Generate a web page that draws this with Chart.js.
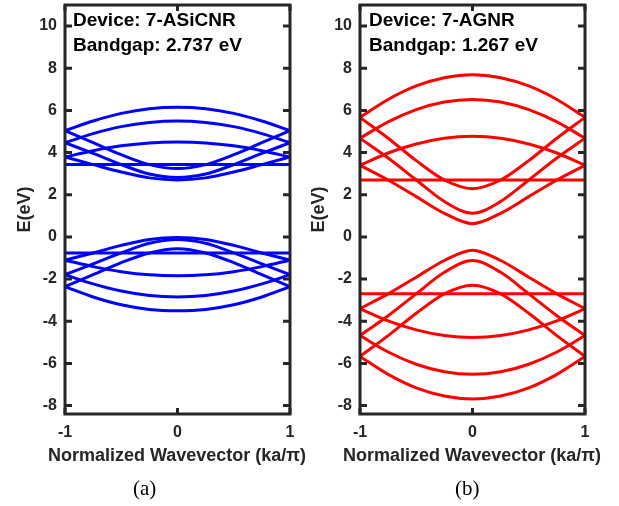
<!DOCTYPE html>
<html>
<head>
<meta charset="utf-8">
<script src="https://cdn.jsdelivr.net/npm/chart.js@4.4.0/dist/chart.umd.min.js"></script>
<style>
  body { margin: 0; background: #fff; }
  #wrap { position: relative; width: 619px; height: 506px; overflow: hidden; }
  canvas { position: absolute; top: 0; }
  .note { position: absolute; top: 7px; font: bold 19px "Liberation Sans", Arial, sans-serif; line-height: 25px; color: #000; white-space: nowrap; }
  .xt { position: absolute; top: 444px; width: 300px; text-align: center; font: bold 18px "Liberation Sans", Arial, sans-serif; line-height: 22px; color: #262626; white-space: nowrap; }
  .cap { position: absolute; top: 476px; font: 21px "Liberation Serif", "Times New Roman", serif; color: #000; }
</style>
</head>
<body>
<div id="wrap">
  <canvas id="left" width="310" height="506" style="left:0"></canvas>
  <canvas id="right" width="311" height="506" style="left:308px"></canvas>
  <div class="note" style="left:73px">Device: 7-ASiCNR<br>Bandgap: 2.737 eV</div>
  <div class="note" style="left:369px">Device: 7-AGNR<br>Bandgap: 1.267 eV</div>
  <div class="xt" style="left:27px">Normalized Wavevector (ka/&pi;)</div>
  <div class="xt" style="left:322px">Normalized Wavevector (ka/&pi;)</div>
  <div class="cap" style="left:133px">(a)</div>
  <div class="cap" style="left:455px">(b)</div>
</div>
<script>
// wavevector samples, ka/pi
const kPoints = [-1, -0.75, -0.5, -0.25, 0, 0.25, 0.5, 0.75, 1];
const xTicks = [-1, 0, 1];
const yTicks = [-8, -6, -4, -2, 0, 2, 4, 6, 8, 10];

// 7-ASiCNR bands (eV)
const asicnrConduction = [
  [5.04, 5.50, 5.86, 6.08, 6.15, 6.08, 5.86, 5.50, 5.04],
  [4.47, 4.90, 5.23, 5.43, 5.50, 5.43, 5.23, 4.90, 4.47],
  [3.79, 4.09, 4.32, 4.46, 4.50, 4.46, 4.32, 4.09, 3.79],
  [3.43, 3.43, 3.43, 3.43, 3.43, 3.43, 3.43, 3.43, 3.43],
  [3.79, 3.43, 3.08, 2.80, 2.70, 2.80, 3.08, 3.43, 3.79],
  [4.47, 3.96, 3.43, 2.98, 2.82, 2.98, 3.43, 3.96, 4.47],
  [5.04, 4.47, 3.90, 3.43, 3.24, 3.43, 3.90, 4.47, 5.04]
];
const asicnrValence = [
  [-2.36, -2.85, -3.22, -3.44, -3.50, -3.44, -3.22, -2.85, -2.36],
  [-1.79, -2.23, -2.57, -2.78, -2.85, -2.78, -2.57, -2.23, -1.79],
  [-1.10, -1.41, -1.65, -1.80, -1.84, -1.80, -1.65, -1.41, -1.10],
  [-0.76, -0.76, -0.76, -0.76, -0.76, -0.76, -0.76, -0.76, -0.76],
  [-1.10, -0.76, -0.40, -0.12, -0.03, -0.12, -0.40, -0.76, -1.10],
  [-1.79, -1.28, -0.76, -0.30, -0.12, -0.30, -0.76, -1.28, -1.79],
  [-2.36, -1.79, -1.22, -0.76, -0.56, -0.76, -1.22, -1.79, -2.36]
];

// 7-AGNR bands (eV)
const agnrConduction = [
  [5.67, 6.52, 7.16, 7.55, 7.69, 7.55, 7.16, 6.52, 5.67],
  [4.68, 5.46, 6.04, 6.40, 6.52, 6.40, 6.04, 5.46, 4.68],
  [3.40, 3.98, 4.41, 4.68, 4.77, 4.68, 4.41, 3.98, 3.40],
  [2.70, 2.70, 2.70, 2.70, 2.70, 2.70, 2.70, 2.70, 2.70],
  [3.40, 2.70, 1.91, 1.12, 0.63, 1.12, 1.91, 2.70, 3.40],
  [4.68, 3.74, 2.70, 1.68, 1.12, 1.68, 2.70, 3.74, 4.68],
  [5.67, 4.68, 3.62, 2.70, 2.29, 2.70, 3.62, 4.68, 5.67]
];
const agnrValence = [
  [-5.67, -6.52, -7.16, -7.55, -7.69, -7.55, -7.16, -6.52, -5.67],
  [-4.68, -5.46, -6.04, -6.40, -6.52, -6.40, -6.04, -5.46, -4.68],
  [-3.40, -3.98, -4.41, -4.68, -4.77, -4.68, -4.41, -3.98, -3.40],
  [-2.70, -2.70, -2.70, -2.70, -2.70, -2.70, -2.70, -2.70, -2.70],
  [-3.40, -2.70, -1.91, -1.12, -0.63, -1.12, -1.91, -2.70, -3.40],
  [-4.68, -3.74, -2.70, -1.68, -1.12, -1.68, -2.70, -3.74, -4.68],
  [-5.67, -4.68, -3.62, -2.70, -2.29, -2.70, -3.62, -4.68, -5.67]
];

const axisColor = '#262626';
const sansFont = '"Liberation Sans", Arial, sans-serif';

// MATLAB style box with inward ticks on all four sides
const boxPlugin = {
  id: 'box',
  afterDatasetsDraw(chart) {
    const { ctx, chartArea: a, scales: { x, y } } = chart;
    ctx.save();
    ctx.strokeStyle = axisColor;
    ctx.lineWidth = 3;
    ctx.strokeRect(a.left, a.top, a.right - a.left, a.bottom - a.top);
    ctx.beginPath();
    y.ticks.forEach(t => {
      const py = y.getPixelForValue(t.value);
      ctx.moveTo(a.left, py); ctx.lineTo(a.left + 7, py);
      ctx.moveTo(a.right, py); ctx.lineTo(a.right - 7, py);
    });
    x.ticks.forEach(t => {
      const px = x.getPixelForValue(t.value);
      ctx.moveTo(px, a.bottom); ctx.lineTo(px, a.bottom - 6);
      ctx.moveTo(px, a.top); ctx.lineTo(px, a.top + 6);
    });
    ctx.stroke();
    ctx.restore();
  }
};

function buildSets(bands, color) {
  return bands.map(row => ({
    data: kPoints.map((k, i) => ({ x: k, y: row[i] })),
    borderColor: color,
    borderWidth: 3,
    pointRadius: 0,
    cubicInterpolationMode: 'monotone',
    fill: false
  }));
}

function makeChart(id, bands, color, axisW, rightPad, titlePad) {
  new Chart(document.getElementById(id), {
    type: 'line',
    data: { datasets: buildSets(bands, color) },
    plugins: [boxPlugin],
    options: {
      responsive: false,
      animation: false,
      layout: { padding: { top: 5, right: rightPad, bottom: 40, left: 0 } },
      plugins: { legend: { display: false }, tooltip: { enabled: false } },
      scales: {
        x: {
          type: 'linear', min: -1, max: 1,
          grid: { display: false, drawTicks: false },
          border: { display: false },
          afterBuildTicks: s => { s.ticks = xTicks.map(v => ({ value: v })); },
          afterFit: s => { s.height = 52; s.paddingLeft = 0; s.paddingRight = 0; },
          ticks: { color: axisColor, padding: 9, font: { family: sansFont, size: 16, weight: 'bold' } }
        },
        y: {
          min: -8.4, max: 11,
          grid: { display: false, drawTicks: false },
          border: { display: false },
          afterBuildTicks: s => { s.ticks = yTicks.map(v => ({ value: v })); },
          afterFit: s => { s.width = axisW; s.paddingTop = 0; s.paddingBottom = 0; },
          ticks: { color: axisColor, padding: 8, font: { family: sansFont, size: 16, weight: 'bold' } },
          title: {
            display: true, text: 'E(eV)', color: axisColor,
            padding: { top: titlePad, bottom: 0 },
            font: { family: sansFont, size: 18, weight: 'bold' }
          }
        }
      }
    }
  });
}

makeChart('left', [...asicnrConduction, ...asicnrValence], '#0000ff', 65, 20, 14);
makeChart('right', [...agnrConduction, ...agnrValence], '#ff0000', 52, 34, 0);
</script>
</body>
</html>
